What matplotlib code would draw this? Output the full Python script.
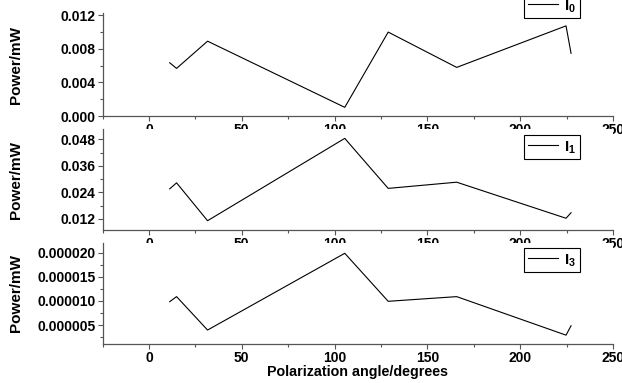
import matplotlib
matplotlib.use('Agg')
import matplotlib.pyplot as plt
from matplotlib.ticker import MultipleLocator, FormatStrFormatter

plt.rcParams['font.family'] = ['Liberation Sans', 'DejaVu Sans']
plt.rcParams['font.weight'] = 'bold'
plt.rcParams['mathtext.fontset'] = 'custom'
plt.rcParams['mathtext.rm'] = 'Liberation Sans:bold'
plt.rcParams['mathtext.bf'] = 'Liberation Sans:bold'

# ----------------------- #
# Data
# ----------------------- #
angle = [11.2, 14.9, 31.6, 105.5, 128.9, 165.8, 224.7, 227.4]
I0 = [0.00633, 0.00566, 0.0089, 0.00103, 0.00998, 0.00578, 0.01072, 0.00745]
I1 = [0.0256, 0.0283, 0.0112, 0.0484, 0.0258, 0.0286, 0.0123, 0.0148]
I3 = [0.00000985, 0.0000109, 0.00000396, 0.0000199, 0.00000993, 0.0000109, 0.0000029, 0.00000485]

labels = [r'I$_{0}$', r'I$_{1}$', r'I$_{3}$']
ylims = [(0.0, 0.01225), (0.0070, 0.0525), (0.0000010, 0.0000221)]
ymajor = [0.004, 0.012, 0.000005]
yformat = ['%.3f', '%.3f', '%.6f']

# ----------------------- #
# Figure & panels (pixel layout)
# ----------------------- #
W, H = 622, 383
fig = plt.figure(figsize=(W / 100, H / 100), dpi=100)

left, right = 102.5, 613
rows = [(13, 116), (129.3, 230), (242.7, 344.3)]   # top / bottom in pixels
legend_tops = [-6, 135, 248]

axes = []
for top, bot in rows:
    ax = fig.add_axes([left / W, 1 - bot / H, (right - left) / W, (bot - top) / H])
    axes.append(ax)

for ax, y, lab, yl, maj, fmt, lt in zip(axes, [I0, I1, I3], labels, ylims, ymajor, yformat, legend_tops):
    ax.plot(angle, y, color='black', linewidth=0.8, label=lab)
    ax.set_xlim(-25, 250)
    ax.set_ylim(*yl)
    ax.xaxis.set_major_locator(MultipleLocator(50))
    ax.xaxis.set_minor_locator(MultipleLocator(25))
    ax.yaxis.set_major_locator(MultipleLocator(maj))
    ax.yaxis.set_minor_locator(MultipleLocator(maj / 2))
    ax.yaxis.set_major_formatter(FormatStrFormatter(fmt))
    for s in ['top', 'right']:
        ax.spines[s].set_visible(False)
    for s in ['left', 'bottom']:
        ax.spines[s].set_color('#555555')
        ax.spines[s].set_linewidth(0.9)
    ax.tick_params(which='major', length=3.5, width=0.8, color='#555555', pad=1.5, labelsize=10)
    ax.tick_params(which='minor', length=2, width=0.8, color='#555555')
    for t in ax.get_xticklabels() + ax.get_yticklabels():
        t.set_fontweight('bold')
    ax.set_ylabel('Power/mW', fontsize=11, fontweight='bold')
    # label's right edge ~23 px from the figure's left
    ax.yaxis.set_label_coords(-(left - 23) / (right - left), 0.5)
    leg = ax.legend(loc='upper left', bbox_to_anchor=(524 / W, 1 - lt / H), bbox_transform=fig.transFigure,
                    borderaxespad=0, fontsize=11, handlelength=2.0, handletextpad=0.4,
                    borderpad=0.25, fancybox=False, framealpha=1)
    leg.get_frame().set_edgecolor('black')
    leg.get_frame().set_linewidth(0.8)

axes[-1].set_xlabel('Polarization angle/degrees', fontsize=10.3, fontweight='bold', labelpad=0)

plt.savefig('out.png', dpi=100)
